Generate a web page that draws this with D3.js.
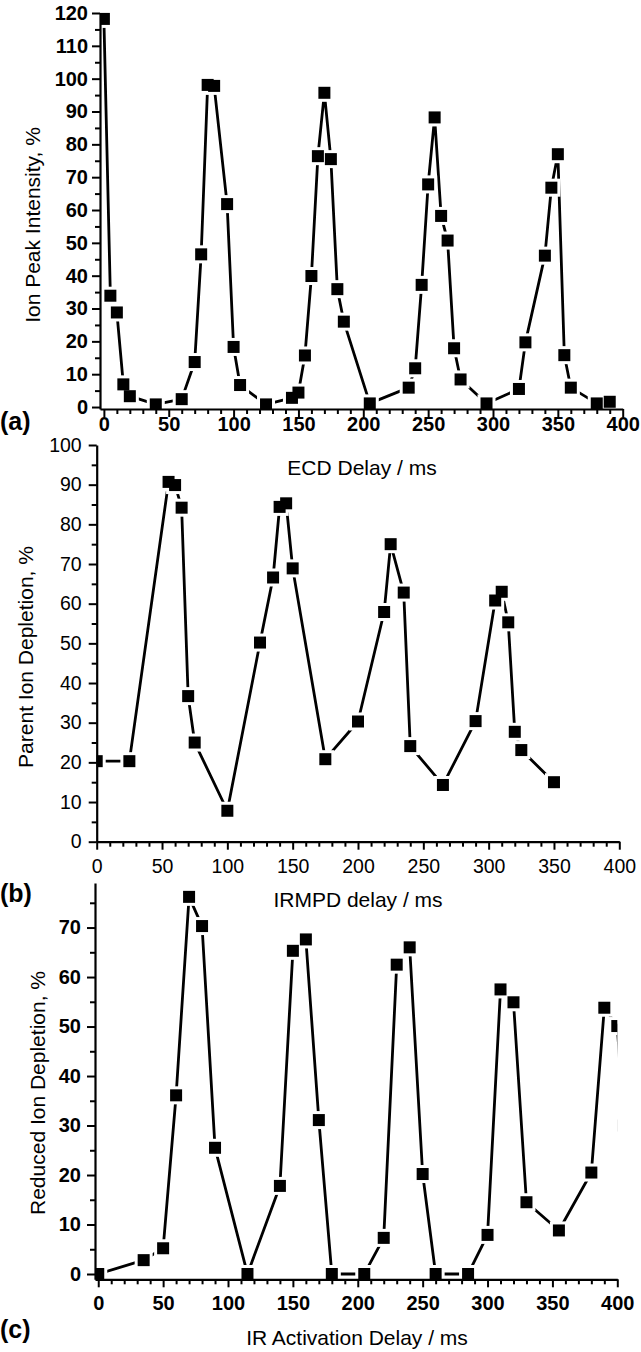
<!DOCTYPE html>
<html><head><meta charset="utf-8">
<script src="https://cdn.jsdelivr.net/npm/d3@7"></script>
<style>body{margin:0;background:#fff}</style>
</head><body>
<svg id="chart" width="641" height="1352"></svg>
<script>
// Panel (a): ECD
const ecdDelay = [0,5,10,15,20,40,60,70,75,80,85,95,100,105,125,145,150,155,160,165,170,175,180,185,205,235,240,245,250,255,260,265,270,275,295,320,325,340,345,350,355,360,380,390];
const ionPeakIntensity = [118.2,33.9,28.8,6.9,3.3,0.8,2.4,13.7,46.5,98.1,97.8,61.8,18.3,6.7,0.8,2.8,4.4,15.7,39.9,76.4,95.7,75.5,35.9,26,1.1,5.9,11.8,37.2,67.8,88.2,58.2,50.7,17.9,8.4,1.1,5.5,19.7,46.1,66.8,77,15.8,5.9,1.1,1.6];
// Panel (b): IRMPD
const irmpdDelay = [0,25,55,60,65,70,75,100,125,135,140,145,150,175,200,220,225,235,240,265,290,305,310,315,320,325,350];
const parentDepletion = [20.3,20.3,90.7,89.9,84.2,36.7,25,7.8,50.2,66.6,84.4,85.3,68.9,20.8,30.3,57.9,75,62.8,24.1,14.3,30.4,60.8,63,55.3,27.7,23.1,15];
// Panel (c): IR activation (last point lies beyond the clipped axis end)
const irDelay = [0,35,50,60,70,80,90,115,140,150,160,170,180,205,220,230,240,250,260,285,300,310,320,330,355,380,390,400,405];
const reducedDepletion = [0,2.8,5.2,36.1,76.2,70.3,25.5,0,17.8,65.3,67.6,31.1,0,0,7.3,62.5,66,20.2,0,0,7.9,57.5,54.9,14.5,8.8,20.5,53.8,50.1,30];

// Tick labels
const xTicks = [0,50,100,150,200,250,300,350,400];
const yTicksA = [0,10,20,30,40,50,60,70,80,90,100,110,120];
const yTicksB = [0,10,20,30,40,50,60,70,80,90,100];
const yTicksC = [0,10,20,30,40,50,60,70];

const panels = [
  {id:"a", xs:ecdDelay, ys:ionPeakIntensity, xDom:[-3,400], xRange:[100,622.7], yDom:[-0.6,120], yRange:[409,13],
   yTicks:yTicksA, yMinorMax:120, bold:true, tickFont:20, yPad:4, xLabY:22,
   xTitle:"ECD Delay / ms", xTitleX:362, xTitleY:475,
   yTitle:"Ion Peak Intensity, %", yTitleX:40, yTitleY:225,
   label:"(a)", labelY:430},
  {id:"b", xs:irmpdDelay, ys:parentDepletion, xDom:[0,400], xRange:[96.7,619.3], yDom:[0,100], yRange:[841.7,445],
   yTicks:yTicksB, yMinorMax:100, bold:false, tickFont:19.5, yPad:7, xLabY:31,
   xTitle:"IRMPD delay / ms", xTitleX:358, xTitleY:906.5,
   yTitle:"Parent Ion Depletion, %", yTitleX:33, yTitleY:657,
   label:"(b)", labelY:902},
  {id:"c", xs:irDelay, ys:reducedDepletion, xDom:[-2.5,400], xRange:[95,617.3], yDom:[-1.07,79], yRange:[1279.3,883],
   yTicks:yTicksC, yMinorMax:79, bold:true, tickFont:20, yPad:6, xLabY:31,
   xTitle:"IR Activation Delay / ms", xTitleX:357, xTitleY:1345,
   yTitle:"Reduced Ion Depletion, %", yTitleX:45, yTitleY:1093,
   label:"(c)", labelY:1338}
];

const svg = d3.select("#chart");
const FONT = "'Liberation Sans', Arial, sans-serif";
const defs = svg.append("defs");

panels.forEach(p => {
  const x = d3.scaleLinear().domain(p.xDom).range(p.xRange);
  const y = d3.scaleLinear().domain(p.yDom).range(p.yRange);
  const pts = p.xs.map((v,i)=>[v,p.ys[i]]);

  defs.append("clipPath").attr("id","clip-"+p.id).append("rect")
    .attr("x", p.xRange[0]).attr("y", p.yRange[1]-8)
    .attr("width", p.xRange[1]-p.xRange[0]).attr("height", p.yRange[0]-p.yRange[1]+8);

  const g = svg.append("g").attr("clip-path","url(#clip-"+p.id+")");
  g.append("path").datum(pts)
    .attr("fill","none").attr("stroke","#000").attr("stroke-width",2.8)
    .attr("stroke-linejoin","round")
    .attr("d", d3.line().x(d=>x(d[0])).y(d=>y(d[1])));
  const ms = 12, halo = 3;
  g.selectAll("rect.halo").data(pts).join("rect").attr("class","halo")
    .attr("x", d=>x(d[0])-ms/2-halo).attr("y", d=>y(d[1])-ms/2-halo)
    .attr("width", ms+2*halo).attr("height", ms+2*halo).attr("fill","#fff");
  g.selectAll("rect.mk").data(pts).join("rect").attr("class","mk")
    .attr("x", d=>x(d[0])-ms/2).attr("y", d=>y(d[1])-ms/2)
    .attr("width", ms).attr("height", ms).attr("fill","#000");

  // minor ticks
  const xMinor = d3.range(0, 401, 10).filter(v=>v%50!==0);
  const yMinor = d3.range(5, p.yMinorMax+0.01, 10);
  const xB = p.yRange[0], yL = p.xRange[0];
  svg.append("g").attr("transform",`translate(0,${xB})`)
    .call(d3.axisBottom(x).tickValues(xMinor).tickSize(5).tickSizeOuter(0).tickFormat(""))
    .call(s=>s.select(".domain").remove())
    .selectAll("line").attr("stroke-width",2);
  svg.append("g").attr("transform",`translate(${yL},0)`)
    .call(d3.axisLeft(y).tickValues(yMinor).tickSize(5).tickSizeOuter(0).tickFormat(""))
    .call(s=>s.select(".domain").remove())
    .selectAll("line").attr("stroke-width",2);

  // major axes
  const ax = svg.append("g").attr("transform",`translate(0,${xB})`)
    .call(d3.axisBottom(x).tickValues(xTicks).tickSize(8).tickSizeOuter(0));
  const ay = svg.append("g").attr("transform",`translate(${yL},0)`)
    .call(d3.axisLeft(y).tickValues(p.yTicks).tickSize(8).tickSizeOuter(0).tickPadding(p.yPad));
  [ax, ay].forEach(a=>{
    a.select(".domain").attr("stroke-width",2.2);
    a.selectAll("line").attr("stroke-width",2);
    a.selectAll("text").attr("font-family",FONT).attr("font-size",p.tickFont)
      .attr("font-weight",p.bold?"bold":"normal").attr("fill","#000");
  });
  ax.selectAll("text").attr("y", p.xLabY).attr("dy","0");

  svg.append("text").attr("x",p.xTitleX).attr("y",p.xTitleY).attr("text-anchor","middle")
    .attr("font-family",FONT).attr("font-size",21).text(p.xTitle);
  svg.append("text").attr("transform",`translate(${p.yTitleX},${p.yTitleY}) rotate(-90)`)
    .attr("text-anchor","middle").attr("font-family",FONT).attr("font-size",21).text(p.yTitle);
  svg.append("text").attr("x",0).attr("y",p.labelY)
    .attr("font-family",FONT).attr("font-size",25).attr("font-weight","bold").text(p.label);
});
</script>
</body></html>
